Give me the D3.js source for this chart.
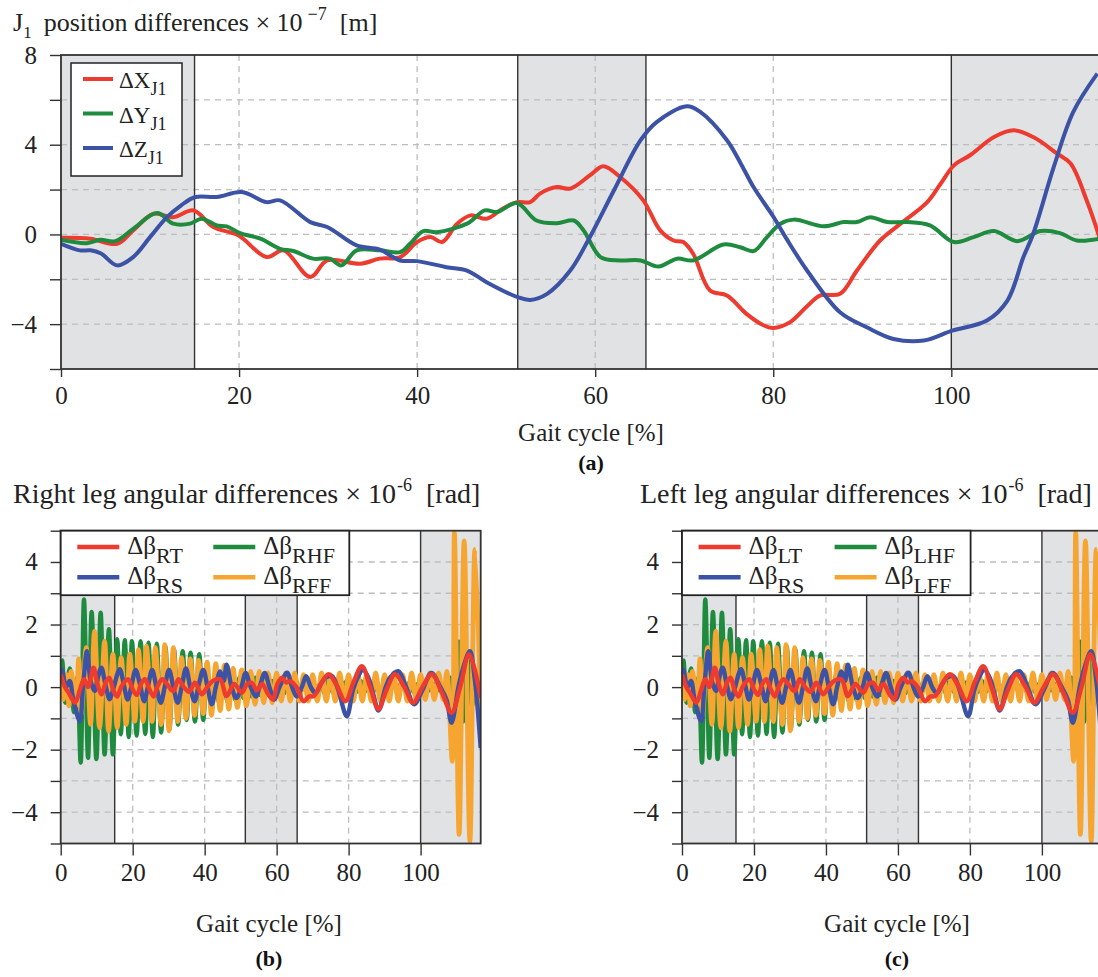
<!DOCTYPE html>
<html>
<head>
<meta charset="utf-8">
<script src="https://cdn.jsdelivr.net/npm/d3@7"></script>
<style>
  body { margin: 0; background: #fff; }
  svg { display: block; font-family: "Liberation Serif", "Times New Roman", serif; }
  svg text { font-family: "Liberation Serif", "Times New Roman", serif; }
</style>
</head>
<body>
<svg id="fig" width="1098" height="977"></svg>
<script>
// ---- data ----
const stancePhases = [[0, 15], [51.3, 65.7], [100, 116.7]];
const xTicks = [0, 20, 40, 60, 80, 100];

// (a) J1 position differences x 1e-7 m
const dxJ1 = [[0,-0.15],[3.3,-0.19],[6.3,-0.42],[8.1,0.18],[10.4,0.92],[12.6,0.77],[14.9,1.07],[17.1,0.33],[19.9,-0.04],[23.1,-1.01],[25,-0.71],[28,-1.9],[29.9,-1.16],[33.6,-1.31],[35.8,-1.08],[38.1,-1.01],[40,-0.34],[41.5,-0.12],[42.8,-0.34],[44.5,0.48],[46,0.85],[47.8,0.7],[49.6,1.15],[51.2,1.44],[52.7,1.44],[53.8,1.82],[55.7,2.11],[57.2,2.04],[59.4,2.63],[60.9,3.04],[62.8,2.56],[65.4,1.52],[67.3,0.18],[68.8,-0.27],[69.9,-0.34],[71,-0.86],[72.9,-2.5],[74.8,-2.72],[77,-3.54],[78.9,-4.05],[80,-4.17],[81.9,-3.91],[83.8,-3.2],[85.3,-2.72],[87.5,-2.65],[89.4,-1.61],[92,-0.27],[94.3,0.48],[97.3,1.44],[98.8,2.26],[100.3,3.08],[102.1,3.53],[104.8,4.34],[107,4.64],[109.2,4.34],[111.9,3.6],[113.4,3.16],[115.2,1.52],[116.7,-0.2]];
const dyJ1 = [[0,-0.24],[2.9,-0.39],[4.4,-0.24],[6.1,-0.3],[8.1,0.25],[10.8,0.95],[12.6,0.48],[14.5,0.48],[15.8,0.7],[17.5,0.4],[18.6,0.36],[20.1,0.06],[22.4,-0.19],[24.6,-0.64],[26.1,-0.74],[28.3,-1.08],[30.2,-1.08],[31.5,-1.38],[33.2,-0.71],[35.8,-0.71],[38.1,-0.79],[39.2,-0.42],[40.7,0.15],[42.2,0.1],[45.6,0.48],[47.6,1.07],[49,1.0],[51.2,1.4],[53.4,0.62],[55.7,0.5],[57.6,0.62],[58.7,0.18],[60.6,-1.01],[62.8,-1.16],[65.1,-1.16],[67.1,-1.43],[69.2,-1.08],[71,-1.16],[74.4,-0.45],[76.3,-0.57],[77.8,-0.74],[79.3,-0.12],[80.8,0.48],[82.3,0.66],[85.7,0.36],[87.9,0.55],[89.4,0.55],[90.9,0.77],[92.8,0.55],[95,0.55],[97.6,0.4],[100.3,-0.34],[102.5,-0.12],[104.8,0.15],[107.4,-0.3],[110,0.15],[112.2,0.06],[114.1,-0.27],[116.7,-0.19]];
const dzJ1 = [[0,-0.42],[2.1,-0.71],[3.3,-0.71],[4.5,-0.85],[6.3,-1.38],[8.1,-1.01],[10,-0.12],[11.9,0.77],[13.5,1.3],[15.1,1.67],[17.5,1.67],[20.3,1.89],[23.1,1.44],[24.6,1.52],[28,0.55],[29.9,0.33],[33.2,-0.49],[35.8,-0.68],[38.1,-1.16],[40,-1.19],[43.3,-1.46],[45.6,-1.61],[47.8,-2.13],[51.3,-2.8],[52.7,-2.92],[54.6,-2.65],[57.2,-1.61],[59.2,-0.27],[62.1,1.96],[65.1,4.2],[66.9,5.01],[70.3,5.71],[71.8,5.46],[74.8,4.2],[76.3,3.2],[77.8,2.1],[80,0.8],[81.5,-0.2],[83.8,-1.61],[87.5,-3.47],[90.5,-4.14],[93.5,-4.66],[96.9,-4.73],[100.1,-4.29],[104,-3.84],[106.3,-2.95],[108.1,-1.01],[109.2,0.03],[111.5,3.0],[113.7,5.46],[116.4,7.17]];

// (b)/(c) leg angular differences x 1e-6 rad
const dbT = [[0,0.4],[1.2,0],[2.3,-0.2],[4,-0.5],[5.3,-0.1],[6.5,0.25],[7.6,0],[9.1,0.62],[10.2,0.1],[11.4,-0.23],[12.5,0.15],[13.5,0.3],[14.6,-0.1],[15.7,-0.3],[16.8,0],[18,0.2],[18.8,0.25],[20.1,-0.1],[21.2,-0.25],[22.3,0.1],[23.4,0.25],[24.6,-0.05],[25.8,-0.3],[27,0.05],[28.2,0.25],[29.5,0.1],[31.3,-0.13],[32.7,0.25],[34.2,0],[35.7,-0.15],[37.3,0.14],[39.2,-0.23],[40.7,0],[42.3,0.2],[44.3,0.25],[46.1,-0.29],[48.2,0.1],[50.3,-0.18],[51.8,0.1],[53.1,0.14],[54.5,-0.1],[56,0.1],[57.5,-0.2],[59,-0.39],[60.2,0.1],[61.5,0.3],[62.6,0.15],[63.8,0.19],[65.5,0],[67.5,-0.45],[69,-0.3],[70.3,-0.29],[72.3,0.1],[74.4,0.41],[76.5,0.1],[79.1,-0.45],[81.5,0.2],[83.7,0.67],[86,0],[88.3,-0.71],[90.5,-0.1],[92.9,0.41],[95.5,0],[97.9,-0.5],[100.5,0],[103.1,0.41],[106,-0.2],[108.6,-0.82],[111,0],[113.5,1.05],[116.7,-0.35]];
const dbS = [[0,0.4],[0.4,0.55],[1.5,0],[2.5,0.2],[3.5,-0.4],[5.3,-1.09],[6.2,0],[7.3,1.15],[8.3,0.2],[9.4,-0.13],[10.3,0.3],[11.3,0.62],[12.4,0.1],[13.6,-0.39],[14.5,-0.1],[16.4,0.57],[17.5,0.1],[18.6,-0.4],[19.6,0],[20.8,0.55],[22,0.1],[23.2,-0.45],[24.2,0],[25.4,0.55],[26.6,0],[27.8,-0.5],[28.9,0],[30.1,0.55],[31.3,0],[32.5,-0.5],[33.6,0],[34.8,0.6],[36,0],[37.2,-0.45],[38.4,0.1],[39.6,0.55],[40.8,0],[42,-0.55],[43.1,0],[44.3,0.5],[45.3,0.2],[46.1,0.72],[47.5,0],[48.8,-0.35],[50.2,0],[51.4,0.45],[52.8,0],[54.2,-0.3],[55.5,0.1],[56.7,0.45],[58,0],[59.3,-0.4],[60.8,0],[62.9,0.46],[64.3,0],[65.6,-0.3],[67,0],[68.2,0.35],[69.5,0],[70.8,-0.2],[72.3,0.1],[73.6,0.3],[75.4,0.35],[77,-0.05],[79.5,-0.93],[81.2,-0.1],[82.5,0.3],[84,0.55],[85.5,0.3],[86.8,-0.2],[88.3,-0.75],[90.3,0],[91.5,0.3],[93.8,0.51],[96,0],[98.2,-0.55],[100.5,-0.1],[103,0.45],[105.5,0],[107.2,-0.4],[108.6,-1.14],[110.5,0],[111.8,0.6],[113.7,1.15],[115,0.3],[116.7,-1.95]];
const dbHF = [[0,0.3],[0.4,0.85],[1.3,-0.5],[2.5,0.6],[3.7,-0.8],[4.6,0.3],[5.55,-2.42],[6.47,2.8],[7.6,-2.26],[8.6,2.4],[9.9,-2.3],[11.1,2.38],[12.2,-2.15],[13.4,1.85],[14.5,-2.15],[15.7,1.53],[16.7,-1.51],[17.8,1.5],[18.9,-1.6],[19.8,1.47],[21.1,-1.55],[22.2,1.47],[23.5,-1.5],[24.4,1.42],[25.6,-1.6],[26.7,1.39],[27.9,-1.45],[29.1,1.3],[30.2,-1.35],[31.5,1.2],[32.6,-1.2],[33.9,1.15],[35,-1.05],[36.1,1.1],[37.3,-1.1],[38.5,1.05],[39.6,-1.05],[40.7,0.5],[41.8,-0.6],[42.9,0.45],[44,-0.5],[45.2,0.4],[46.3,-0.45],[47.4,0.35],[48.5,-0.4],[49.7,0.3],[50.8,-0.35],[51.9,0.3],[53,-0.3],[54.2,0.3],[55.3,-0.25],[56.4,0.25],[57.5,-0.25],[58.7,0.2],[59.8,-0.2],[60.9,0.2],[62,-0.2],[63.2,0.2],[64.3,-0.2],[65.4,0.2],[66.5,-0.2],[67.7,0.15],[68.8,-0.2],[69.9,0.15],[71,-0.2],[72.2,0.15],[73.3,-0.2],[74.4,0.2],[75.5,-0.15],[76.7,0.15],[77.8,-0.2],[78.9,0.15],[80,-0.15],[81.2,0.15],[82.3,-0.15],[83.4,0.2],[84.5,-0.15],[85.7,0.15],[86.8,-0.15],[87.9,0.15],[89,-0.2],[90.2,0.15],[91.3,-0.15],[92.4,0.2],[93.5,-0.15],[94.7,0.15],[95.8,-0.15],[96.9,0.15],[98,-0.15],[99.2,0.1],[100.3,-0.15],[101.4,0.1],[102.5,-0.1],[103.7,0.1],[104.8,-0.1],[105.9,0.1],[107,-0.15],[108.2,0.3],[109.3,-0.8],[110.6,1.45],[111.8,-1.1],[113,0.9],[114.3,-0.6],[115.5,0.3],[116.7,-0.1]];
const dbFF = [[0,0.1],[0.7,-0.4],[1.6,0.4],[2.3,-0.6],[2.9,0.5],[4.2,-0.6],[5,0.9],[5.7,-0.87],[7.1,1.26],[8.3,-1.19],[9.4,1.79],[10.8,-1.3],[12.2,1.47],[13.3,-1.41],[14.5,1.05],[15.7,-1.3],[16.8,0.94],[18.2,-1.19],[19.2,1.05],[20.6,-1.09],[21.6,1.2],[22.9,-1.1],[23.8,1.31],[25.4,-1.1],[26.3,1.26],[27.9,-1.2],[28.9,1.36],[30.1,-1.4],[31.3,1.26],[32.5,-1.1],[33.6,0.94],[34.8,-1],[36,0.9],[37.2,-0.9],[38.3,0.85],[39.6,-0.85],[40.7,0.8],[41.9,-0.9],[43.1,0.75],[44.3,-0.75],[45.5,0.7],[46.7,-0.7],[47.9,0.6],[49.1,-0.65],[50.3,0.55],[51.6,-0.6],[52.8,0.5],[54,-0.55],[55.2,0.5],[56.4,-0.5],[57.6,0.45],[58.8,-0.5],[60,0.45],[61.3,-0.45],[62.5,0.45],[63.8,-0.45],[65,0.45],[66.3,-0.45],[67.5,0.4],[68.8,-0.45],[70,0.4],[71.3,-0.45],[72.5,0.45],[73.8,-0.45],[75,0.4],[76.3,-0.45],[77.5,0.45],[78.8,-0.45],[80,0.4],[81.3,-0.45],[82.5,0.45],[83.8,-0.45],[85,0.4],[86.3,-0.45],[87.5,0.45],[88.8,-0.45],[90,0.4],[91.3,-0.45],[92.5,0.45],[93.8,-0.45],[95,0.4],[96.3,-0.45],[97.5,0.45],[98.8,-0.45],[100,0.4],[101.3,-0.4],[102.5,0.45],[103.8,-0.4],[105,0.45],[106.3,-0.4],[107.3,0.5],[108.8,-2.37],[109.4,4.94],[110.7,-4.71],[112.1,4.67],[113.7,-4.93],[115.1,4.4],[116.7,-1.0]];

const red = '#ee3b2f', green = '#1f8b3f', blue = '#3b52a5', orange = '#f7a531';
const serif = '"Liberation Serif", "Times New Roman", serif';

const svg = d3.select('#fig');
const line = d3.line().curve(d3.curveCatmullRom.alpha(0.5));

function panel(cfg) {
  const x = d3.scaleLinear().domain([0, 116.7]).range([cfg.left, cfg.right]);
  const y = d3.scaleLinear().domain(cfg.yDomain).range([cfg.bottom, cfg.top]);
  const g = svg.append('g');

  g.append('clipPath').attr('id', cfg.id)
    .append('rect')
    .attr('x', cfg.left).attr('y', cfg.top)
    .attr('width', cfg.right - cfg.left).attr('height', cfg.bottom - cfg.top);

  g.selectAll('rect.phase').data(stancePhases).enter().append('rect')
    .attr('x', d => x(d[0])).attr('width', d => x(d[1]) - x(d[0]))
    .attr('y', cfg.top).attr('height', cfg.bottom - cfg.top)
    .attr('fill', '#e1e2e4');

  // dashed grid
  g.selectAll('line.gy').data(cfg.gridY).enter().append('line')
    .attr('x1', cfg.left).attr('x2', cfg.right)
    .attr('y1', d => y(d)).attr('y2', d => y(d))
    .attr('stroke', '#bdbdbd').attr('stroke-width', 1.3).attr('stroke-dasharray', '6,5');
  g.selectAll('line.gx').data([20, 40, 60, 80]).enter().append('line')
    .attr('x1', d => x(d)).attr('x2', d => x(d))
    .attr('y1', cfg.top).attr('y2', cfg.bottom)
    .attr('stroke', '#bdbdbd').attr('stroke-width', 1.3).attr('stroke-dasharray', '6,5');

  // phase boundaries
  const edges = [15, 51.3, 65.7, 100];
  g.selectAll('line.edge').data(edges).enter().append('line')
    .attr('x1', d => x(d)).attr('x2', d => x(d))
    .attr('y1', cfg.top).attr('y2', cfg.bottom)
    .attr('stroke', '#333').attr('stroke-width', 1.4);

  const lines = g.append('g').attr('clip-path', `url(#${cfg.id})`);
  cfg.series.forEach(s => {
    lines.append('path')
      .attr('d', line(s.data.map(p => [x(p[0]), y(p[1])])))
      .attr('fill', 'none').attr('stroke', s.color)
      .attr('stroke-width', s.width).attr('stroke-linejoin', 'round');
  });

  // frame
  g.append('rect')
    .attr('x', cfg.left).attr('y', cfg.top)
    .attr('width', cfg.right - cfg.left).attr('height', cfg.bottom - cfg.top)
    .attr('fill', 'none').attr('stroke', '#333').attr('stroke-width', 1.8);

  const yAxis = d3.axisLeft(y).tickValues(cfg.yTicks).tickSize(cfg.tickY).tickPadding(cfg.padY)
    .tickFormat(d => cfg.yLabels.includes(d) ? d3.format('d')(d) : '');
  const ya = g.append('g').attr('transform', `translate(${cfg.left},0)`).call(yAxis);
  const xAxis = d3.axisBottom(x).tickValues(xTicks).tickSize(cfg.tickX).tickPadding(cfg.padX);
  const xa = g.append('g').attr('transform', `translate(0,${cfg.bottom})`).call(xAxis);
  [ya, xa].forEach(a => {
    a.attr('font-family', serif).attr('font-size', 25);
    a.select('.domain').remove();
    a.selectAll('line').attr('stroke', '#333').attr('stroke-width', 1.4);
    a.selectAll('text').attr('font-family', serif).attr('font-size', 25).attr('fill', '#222');
  });
  return {x, y, g};
}

// ---- (a) ----
panel({
  id: 'clipA', left: 61, right: 1100, top: 55, bottom: 369,
  yDomain: [-6, 8], yTicks: [-6, -4, -2, 0, 2, 4, 6, 8], yLabels: [8, 4, 0, -4],
  gridY: [-4, -2, 0, 2, 4, 6], tickY: 11, padY: 13, tickX: 8, padX: 9,
  series: [
    {data: dxJ1, color: red, width: 4},
    {data: dyJ1, color: green, width: 4},
    {data: dzJ1, color: blue, width: 4}
  ]
});

const topTitle = svg.append('text').attr('x', 13).attr('y', 31).attr('font-size', 26).attr('fill', '#222');
topTitle.append('tspan').text('J');
topTitle.append('tspan').attr('dy', 7).attr('font-size', 17).text('1');
topTitle.append('tspan').attr('dy', -7).attr('dx', 12).text('position differences \u00d7 10');
topTitle.append('tspan').attr('dy', -11).attr('dx', 5).attr('font-size', 18).text('\u22127');
topTitle.append('tspan').attr('dy', 11).text('\u00a0\u00a0[m]');

const topLegend = [['X', red], ['Y', green], ['Z', blue]];
svg.append('rect').attr('x', 71).attr('y', 63).attr('width', 111).attr('height', 113)
  .attr('fill', '#fff').attr('stroke', '#222').attr('stroke-width', 1.5);
topLegend.forEach((d, i) => {
  const yy = 79 + i * 34.5;
  svg.append('line').attr('x1', 83).attr('x2', 113).attr('y1', yy).attr('y2', yy)
    .attr('stroke', d[1]).attr('stroke-width', 4);
  const t = svg.append('text').attr('x', 119).attr('y', yy + 9).attr('font-size', 23).attr('fill', '#222');
  t.append('tspan').text('\u0394' + d[0]);
  t.append('tspan').attr('dy', 7).attr('font-size', 18).text('J1');
});

svg.append('text').attr('x', 591).attr('y', 441).attr('text-anchor', 'middle')
  .attr('font-size', 25).attr('fill', '#222').text('Gait cycle [%]');
svg.append('text').attr('x', 591).attr('y', 470).attr('text-anchor', 'middle')
  .attr('font-size', 22).attr('font-weight', 'bold').attr('fill', '#111').text('(a)');

// ---- (b) and (c) ----
function legPanel(opt) {
  const p = panel({
    id: opt.id, left: opt.left, right: opt.left + 420, top: 530.7, bottom: 843.5,
    yDomain: [-5, 5], yTicks: d3.range(-5, 6), yLabels: [-4, -2, 0, 2, 4],
    gridY: [-4, -3, -2, -1, 0, 1, 2, 3, 4], tickY: 10, padY: 13, tickX: 12, padX: 8,
    series: [
      {data: dbHF, color: green, width: 4.4},
      {data: dbFF, color: orange, width: 4.8},
      {data: dbS, color: blue, width: 4.4},
      {data: dbT, color: red, width: 4.4}
    ]
  });
  const L = opt.left;
  svg.append('rect').attr('x', L).attr('y', 530.7).attr('width', 288.6).attr('height', 64.5)
    .attr('fill', '#fff').attr('stroke', '#222').attr('stroke-width', 1.8);
  opt.legend.forEach((d, i) => {
    const col = Math.floor(i / 2), row = i % 2;
    const lx = L + 16.6 + col * 136, yy = 547 + row * 30.3;
    svg.append('line').attr('x1', lx).attr('x2', lx + 42).attr('y1', yy).attr('y2', yy)
      .attr('stroke', d[1]).attr('stroke-width', 4.5);
    const t = svg.append('text').attr('x', lx + 50).attr('y', yy + 6.5).attr('font-size', 25).attr('fill', '#222');
    t.append('tspan').text('\u0394\u03b2');
    t.append('tspan').attr('dy', 9).attr('font-size', 22).text(d[0]);
  });

  const title = svg.append('text').attr('x', opt.titleX).attr('y', 503).attr('font-size', 28).attr('fill', '#222');
  title.append('tspan').text(opt.title + ' \u00d7 10');
  title.append('tspan').attr('dy', -12).attr('dx', 1).attr('font-size', 18).text('-6');
  title.append('tspan').attr('dy', 12).text('\u00a0\u00a0[rad]');

  svg.append('text').attr('x', opt.labelX).attr('y', 932).attr('text-anchor', 'middle')
    .attr('font-size', 25).attr('fill', '#222').text('Gait cycle [%]');
  svg.append('text').attr('x', opt.labelX).attr('y', 966).attr('text-anchor', 'middle')
    .attr('font-size', 22).attr('font-weight', 'bold').attr('fill', '#111').text(opt.tag);
  return p;
}

legPanel({
  id: 'clipB', left: 60.7, titleX: 13, labelX: 269, tag: '(b)',
  title: 'Right leg angular differences',
  legend: [['RT', red], ['RS', blue], ['RHF', green], ['RFF', orange]]
});
legPanel({
  id: 'clipC', left: 682, titleX: 640, labelX: 897, tag: '(c)',
  title: 'Left leg angular differences',
  legend: [['LT', red], ['RS', blue], ['LHF', green], ['LFF', orange]]
});
</script>
</body>
</html>
